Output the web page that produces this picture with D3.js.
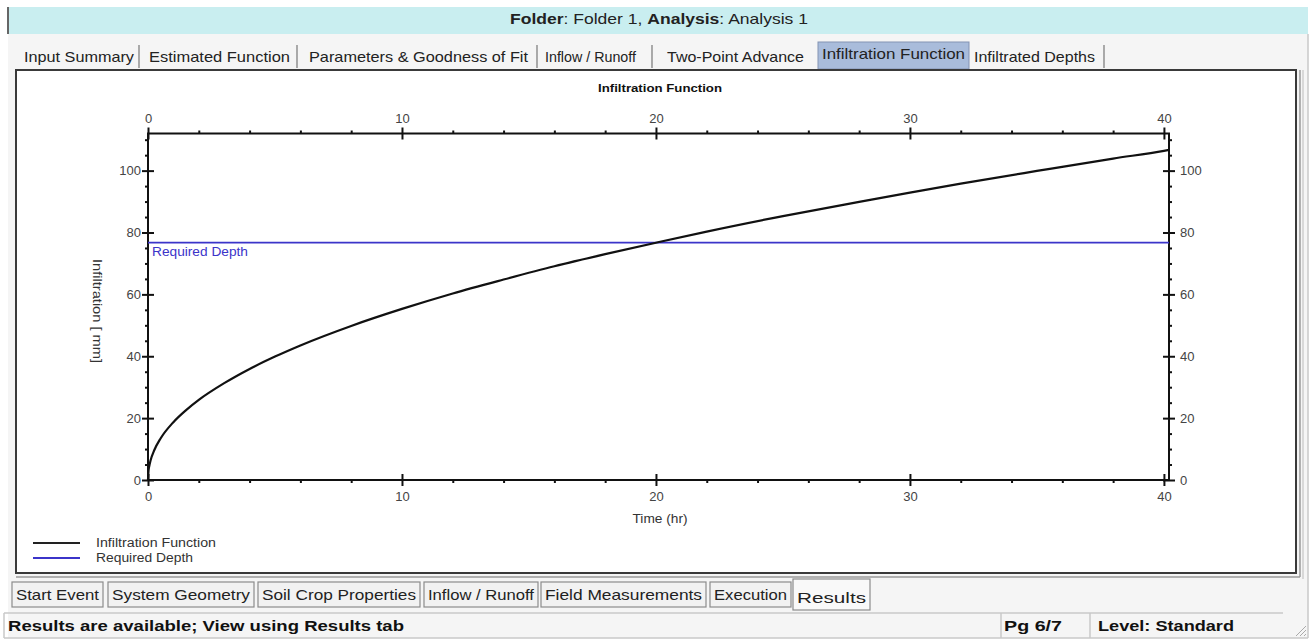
<!DOCTYPE html>
<html><head><meta charset="utf-8">
<script src="https://cdn.jsdelivr.net/npm/d3@7"></script>
<style>
body{margin:0;background:#fff;}
svg{display:block;font-family:"Liberation Sans",Arial,sans-serif;}
</style>
</head><body>
<svg id="c" width="1314" height="644"></svg>
<script>
// ---- data ----
const timeHr = [0,0.02,0.05,0.1,0.25,0.5,1,1.5,2,3,4,5,6,8,10,12,14,16,18,20,22,25,28,30,32,35,38,40,40.2];
const infiltrationMm = [0,2.9,4.5,6.3,9.7,13.5,18.7,22.6,25.9,31.3,35.9,39.9,43.5,49.8,55.3,60.3,64.8,69.1,73.0,76.7,80.3,85.3,89.9,92.9,95.8,99.9,103.9,106.4,106.7];
const requiredDepthMm = 76.7;
const xDomain = [0, 40.2];
const yDomain = [0, 112];
const xMajorTicks = [0,10,20,30,40];
const xMinorTicks = [2,4,6,8,12,14,16,18,22,24,26,28,32,34,36,38];
const yMajorTicks = [0,20,40,60,80,100];
const yMinorTicks = [5,10,15,25,30,35,45,50,55,65,70,75,85,90,95,105,110];
const chartTitle = "Infiltration Function";
const xTitle = "Time (hr)";
const yTitle = "Infiltration [ mm]";
const seriesNames = ["Infiltration Function","Required Depth"];
const topTabs = ["Input Summary","Estimated Function","Parameters & Goodness of Fit","Inflow / Runoff","Two-Point Advance","Infiltration Function","Infiltrated Depths"];
const bottomTabs = ["Start Event","System Geometry","Soil Crop Properties","Inflow / Runoff","Field Measurements","Execution","Results"];

// ---- layout ----
const svg = d3.select("#c");
const W=1314,H=644;
const plot = {l:148, r:1169, t:133.5, b:480};
const blue = "#3b34c9";

// window background
svg.append("rect").attr("x",0).attr("y",0).attr("width",W).attr("height",H).attr("fill","#ffffff");
svg.append("rect").attr("x",8).attr("y",34).attr("width",1300).attr("height",604).attr("fill","#f5f5f5");
// header band
svg.append("rect").attr("x",8).attr("y",7).attr("width",1300).attr("height",27).attr("fill","#c9eef0");
svg.append("line").attr("x1",8).attr("x2",8).attr("y1",7).attr("y2",34).attr("stroke","#666").attr("stroke-width",2);
const hdr = svg.append("text").attr("x",510).attr("y",24).attr("font-size",14.5).attr("fill","#222")
  .attr("textLength",298).attr("lengthAdjust","spacingAndGlyphs");
hdr.append("tspan").attr("font-weight","bold").text("Folder");
hdr.append("tspan").text(": Folder 1, ");
hdr.append("tspan").attr("font-weight","bold").text("Analysis");
hdr.append("tspan").text(": Analysis 1");
// outer right frame
svg.append("line").attr("x1",1308).attr("x2",1308).attr("y1",34).attr("y2",638).attr("stroke","#c8c8c8").attr("stroke-width",1.5);
svg.append("line").attr("x1",4).attr("x2",1308).attr("y1",638).attr("y2",638).attr("stroke","#c8c8c8").attr("stroke-width",1.5);

// top tabs
const topTabX = [[24,134],[149,290],[309,528],[545,636],[667,804],[818,969],[974,1095]];
const topSep = [139,297,537,652,1104];
topTabs.forEach((t,i)=>{
  let [a,b]=topTabX[i];
  if(i===5){
    svg.append("rect").attr("x",a).attr("y",42).attr("width",b-a).attr("height",27).attr("fill","#a9bcdb").attr("stroke","#8393b3").attr("stroke-width",1);
    a+=4; b-=4;
  }
  svg.append("text").attr("x",a).attr("y",i===5?59:62).attr("font-size",14.5).attr("fill","#222")
    .attr("textLength",b-a).attr("lengthAdjust","spacingAndGlyphs").text(t);
});
topSep.forEach(x=>svg.append("line").attr("x1",x).attr("x2",x).attr("y1",45).attr("y2",68).attr("stroke","#777").attr("stroke-width",1.2));

// chart panel
svg.append("rect").attr("x",16).attr("y",70).attr("width",1280).attr("height",503).attr("fill","#fff").attr("stroke","#3a3a3a").attr("stroke-width",2);
svg.append("line").attr("x1",1300).attr("x2",1300).attr("y1",70).attr("y2",577).attr("stroke","#9a9a9a").attr("stroke-width",1.5);
svg.append("line").attr("x1",16).attr("x2",1300).attr("y1",577).attr("y2",577).attr("stroke","#9a9a9a").attr("stroke-width",1.5);
svg.append("line").attr("x1",1303).attr("x2",1303).attr("y1",70).attr("y2",579).attr("stroke","#bbb").attr("stroke-width",1);

// scales
const x = d3.scaleLinear().domain(xDomain).range([plot.l, plot.r]);
const y = d3.scaleLinear().domain(yDomain).range([plot.b, plot.t]);

// chart title
svg.append("text").attr("x",660).attr("y",92).attr("text-anchor","middle").attr("font-size",11.5).attr("font-weight","bold").attr("fill","#111")
  .attr("textLength",124).attr("lengthAdjust","spacingAndGlyphs").text(chartTitle);

const g = svg.append("g");
function styleAxis(sel, labels){
  sel.select(".domain").remove();
  sel.selectAll(".tick line").attr("stroke","#111").attr("stroke-width",2);
  sel.selectAll(".tick text").attr("fill","#444").attr("font-size",13).attr("font-family","Liberation Sans, Arial, sans-serif");
  if(!labels) sel.selectAll(".tick text").remove();
}
// bottom axis
const bOut = g.append("g").attr("transform",`translate(0,${plot.b})`).call(d3.axisBottom(x).tickValues(xMajorTicks).tickSize(6).tickPadding(6).tickFormat(d3.format("d")));
styleAxis(bOut,true);
const bIn = g.append("g").attr("transform",`translate(0,${plot.b})`).call(d3.axisBottom(x).tickValues(xMajorTicks).tickSize(-6));
styleAxis(bIn,false);
const bMin = g.append("g").attr("transform",`translate(0,${plot.b})`).call(d3.axisBottom(x).tickValues(xMinorTicks).tickSize(3));
styleAxis(bMin,false);
// top axis
const tOut = g.append("g").attr("transform",`translate(0,${plot.t})`).call(d3.axisTop(x).tickValues(xMajorTicks).tickSize(6).tickPadding(5).tickFormat(d3.format("d")));
styleAxis(tOut,true);
const tIn = g.append("g").attr("transform",`translate(0,${plot.t})`).call(d3.axisTop(x).tickValues(xMajorTicks).tickSize(-6));
styleAxis(tIn,false);
const tMin = g.append("g").attr("transform",`translate(0,${plot.t})`).call(d3.axisTop(x).tickValues(xMinorTicks).tickSize(3));
styleAxis(tMin,false);
// left axis
const lOut = g.append("g").attr("transform",`translate(${plot.l},0)`).call(d3.axisLeft(y).tickValues(yMajorTicks).tickSize(6).tickPadding(1).tickFormat(d3.format("d")));
styleAxis(lOut,true);
const lIn = g.append("g").attr("transform",`translate(${plot.l},0)`).call(d3.axisLeft(y).tickValues(yMajorTicks).tickSize(-6));
styleAxis(lIn,false);
const lMin = g.append("g").attr("transform",`translate(${plot.l},0)`).call(d3.axisLeft(y).tickValues(yMinorTicks).tickSize(3));
styleAxis(lMin,false);
// right axis
const rOut = g.append("g").attr("transform",`translate(${plot.r},0)`).call(d3.axisRight(y).tickValues(yMajorTicks).tickSize(6).tickPadding(5).tickFormat(d3.format("d")));
styleAxis(rOut,true);
const rIn = g.append("g").attr("transform",`translate(${plot.r},0)`).call(d3.axisRight(y).tickValues(yMajorTicks).tickSize(-6));
styleAxis(rIn,false);
const rMin = g.append("g").attr("transform",`translate(${plot.r},0)`).call(d3.axisRight(y).tickValues(yMinorTicks).tickSize(3));
styleAxis(rMin,false);

// axis frame lines
g.append("rect").attr("x",plot.l).attr("y",plot.t).attr("width",plot.r-plot.l).attr("height",plot.b-plot.t)
  .attr("fill","none").attr("stroke","#111").attr("stroke-width",2);

// axis titles
svg.append("text").attr("x",660).attr("y",523).attr("text-anchor","middle").attr("font-size",12.5).attr("fill","#333")
  .attr("textLength",55).attr("lengthAdjust","spacingAndGlyphs").text(xTitle);
svg.append("text").attr("transform","translate(93,311) rotate(90)").attr("text-anchor","middle").attr("font-size",12).attr("fill","#333")
  .attr("textLength",104).attr("lengthAdjust","spacingAndGlyphs").text(yTitle);

// series
const data = timeHr.map((t,i)=>({t, v:infiltrationMm[i]}));
g.append("line").attr("x1",x(xDomain[0])).attr("x2",x(xDomain[1])).attr("y1",y(requiredDepthMm)).attr("y2",y(requiredDepthMm))
  .attr("stroke",blue).attr("stroke-width",1.8);
g.append("path").datum(data).attr("fill","none").attr("stroke","#111").attr("stroke-width",2.2)
  .attr("d",d3.line().x(d=>x(d.t)).y(d=>y(d.v)).curve(d3.curveMonotoneX));
svg.append("text").attr("x",152).attr("y",y(requiredDepthMm)+13).attr("font-size",12).attr("fill",blue)
  .attr("textLength",96).attr("lengthAdjust","spacingAndGlyphs").text(seriesNames[1]);

// legend
const legColors = ["#222", blue];
seriesNames.forEach((n,i)=>{
  const yy = 543 + i*15;
  svg.append("line").attr("x1",33).attr("x2",80).attr("y1",yy).attr("y2",yy).attr("stroke",legColors[i]).attr("stroke-width",2);
  svg.append("text").attr("x",96).attr("y",yy+4).attr("font-size",12).attr("fill","#333")
    .attr("textLength",i===0?120:97).attr("lengthAdjust","spacingAndGlyphs").text(n);
});

// bottom tabs
const botTabX = [[12,103],[108,254],[258,420],[424,538],[541,706],[710,791],[793,870]];
bottomTabs.forEach((t,i)=>{
  const [a,b]=botTabX[i];
  const active = i===6;
  const top = active?579:582, bot = active?610:607;
  svg.append("rect").attr("x",a).attr("y",top).attr("width",b-a).attr("height",bot-top)
    .attr("fill",active?"#f9f9f9":"#f2f2f2").attr("stroke","#8c8c8c").attr("stroke-width",1.2);
  svg.append("text").attr("x",a+4).attr("y",active?603:600).attr("font-size",14.5).attr("fill","#222")
    .attr("textLength",b-a-8).attr("lengthAdjust","spacingAndGlyphs").text(t);
});

// status bar
svg.append("line").attr("x1",4).attr("x2",1283).attr("y1",613).attr("y2",613).attr("stroke","#c8c8c8").attr("stroke-width",1.5);
svg.append("line").attr("x1",1001).attr("x2",1001).attr("y1",613).attr("y2",638).attr("stroke","#c8c8c8").attr("stroke-width",1.5);
svg.append("line").attr("x1",1090).attr("x2",1090).attr("y1",613).attr("y2",638).attr("stroke","#c8c8c8").attr("stroke-width",1.5);
svg.append("line").attr("x1",4).attr("x2",4).attr("y1",613).attr("y2",638).attr("stroke","#c8c8c8").attr("stroke-width",1.5);
const statusTexts = ["Results are available; View using Results tab","Pg 6/7","Level: Standard"];
const statusX = [[8,404],[1004,1062],[1098,1234]];
statusTexts.forEach((s,i)=>{
  svg.append("text").attr("x",statusX[i][0]).attr("y",631).attr("font-size",15).attr("font-weight","bold").attr("fill","#111")
    .attr("textLength",statusX[i][1]-statusX[i][0]).attr("lengthAdjust","spacingAndGlyphs").text(s);
});
// resize grip
[0,1,2].forEach(k=>{
  svg.append("line").attr("x1",1296+k*4).attr("y1",636).attr("x2",1306).attr("y2",626+k*4).attr("stroke","#aaa").attr("stroke-width",1);
});
</script>
</body></html>
